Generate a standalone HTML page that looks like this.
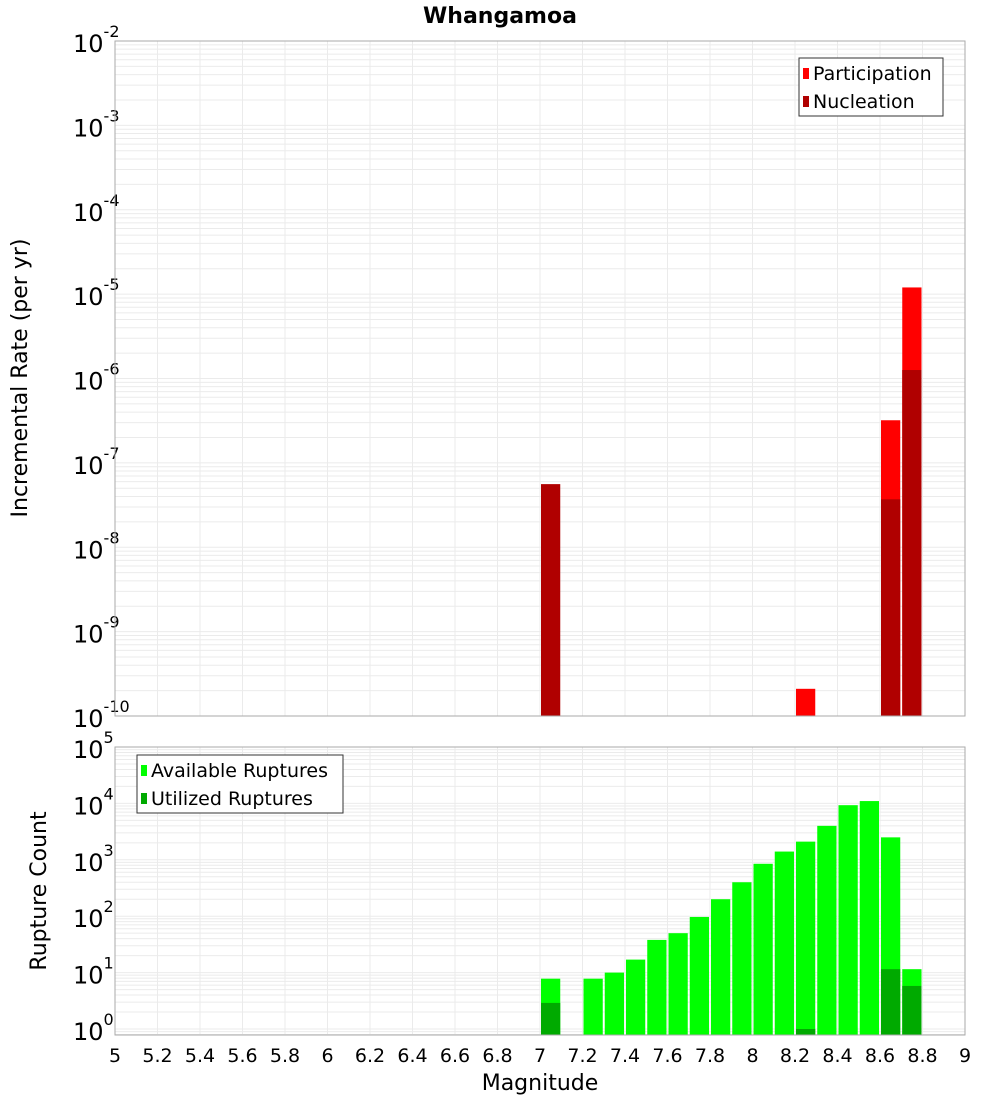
<!DOCTYPE html>
<html><head><meta charset="utf-8"><style>
body{margin:0;background:#fff}
svg{display:block;font-family:"DejaVu Sans","Liberation Sans",sans-serif}
</style></head><body>
<svg id="chart" width="1000" height="1100">
<text x="500" y="23" text-anchor="middle" font-weight="bold" font-size="22">Whangamoa</text>
<g id="top"></g><g id="bot"></g>
<text transform="translate(27,378) rotate(-90)" text-anchor="middle" font-size="22">Incremental Rate (per yr)</text>
<text transform="translate(46,891) rotate(-90)" text-anchor="middle" font-size="22">Rupture Count</text>
<text x="540" y="1090" text-anchor="middle" font-size="22">Magnitude</text>
</svg>
<script>
const xTicks=[5,5.2,5.4,5.6,5.8,6,6.2,6.4,6.6,6.8,7,7.2,7.4,7.6,7.8,8,8.2,8.4,8.6,8.8,9];
const partMags=[8.2,8.6,8.7];
const partVals=[2.1e-10,3.2e-7,1.2e-5];
const nuclMags=[7.0,8.6,8.7];
const nuclVals=[5.6e-8,3.7e-8,1.26e-6];
const availMags=[7.0,7.2,7.3,7.4,7.5,7.6,7.7,7.8,7.9,8.0,8.1,8.2,8.3,8.4,8.5,8.6,8.7];
const availVals=[7.8,7.8,10,17,38,50,97,200,400,850,1400,2100,4000,9300,11000,2500,11.5];
const utilMags=[7.0,8.2,8.6,8.7];
const utilVals=[2.9,1,11.5,5.8];
const topExps=[-2,-3,-4,-5,-6,-7,-8,-9,-10];
const botExps=[5,4,3,2,1,0];

const NS="http://www.w3.org/2000/svg";
function mk(p,t,a){const e=document.createElementNS(NS,t);for(const k in a)e.setAttribute(k,a[k]);p.appendChild(e);return e;}
const X0=115,X1=965;
const xs=m=>X0+(m-5)/4*(X1-X0);

function panel(g,top,bottom,yFn,lgMin,lgMax,exps,prefix){
  const bg=mk(g,'rect',{x:X0,y:top,width:X1-X0,height:bottom-top,fill:'#fff'});
  
  
  for(let d=Math.floor(lgMin);d<lgMax;d++){for(let k=1;k<10;k++){const v=Math.log10(k)+d;if(v<lgMin||v>lgMax)continue;const y=yFn(Math.pow(10,v));
    const l=mk(g,'line',{x1:X0,x2:X1,y1:y,y2:y,stroke:'#ebebeb','stroke-width':1});
    
    }}
  xTicks.forEach(t=>{const x=xs(t);
    const l=mk(g,'line',{x1:x,x2:x,y1:top,y2:bottom,stroke:'#ebebeb','stroke-width':1});
    
    });
  exps.forEach(e=>{const y=yFn(Math.pow(10,e));
    const t=mk(g,'text',{x:73,y:y+11,'font-size':24});
    
    
    t.textContent='10';
    const s=mk(t,'tspan',{dy:-15,'font-size':16});s.textContent=String(e);});
}
function bars(g,mags,vals,yFn,bottom,color,name){
  mags.forEach((m,i)=>{const y=yFn(vals[i]);const x=xs(m)+1;const w=xs(m+0.1)-xs(m)-2;
    const r=mk(g,'rect',{x:x,y:Math.min(y,bottom),width:w,height:Math.max(0,bottom-y),fill:color});
    
    });
}
function frame(g,top,bottom,prefix){
  const r=mk(g,'rect',{x:X0,y:top,width:X1-X0,height:bottom-top,fill:'none',stroke:'#aaa','stroke-width':1});
  
  
}
function legend(g,x,y,w,items,prefix){
  const b=mk(g,'rect',{x:x,y:y,width:w,height:58,fill:'#fff',stroke:'#333','stroke-width':1});
  
  
  items.forEach((it,i)=>{const cy=y+15+i*28;
    const s=mk(g,'rect',{x:x+4,y:cy-5,width:6,height:11,fill:it[1]});
    
    
    const t=mk(g,'text',{x:x+14,y:cy+7,'font-size':19});
    
    
    t.textContent=it[0];});
}
// top panel
const T0=41,T1=716;
const yTop=v=>T1-(Math.log10(v)+10)*(T1-T0)/8;
const gt=document.getElementById('top');
panel(gt,T0,T1,yTop,-10,-2,topExps,'top');
bars(gt,partMags,partVals,yTop,T1,'#ff0000','participation-bar');
bars(gt,nuclMags,nuclVals,yTop,T1,'#b00000','nucleation-bar');
frame(gt,T0,T1,'top');
legend(gt,799,58,144,[['Participation','#ff0000'],['Nucleation','#b00000']],'top');
// bottom panel
const B0=747,B1=1035,BZ=1029,BD=56.4;
const yBot=v=>BZ-Math.log10(v)*BD;
const gb=document.getElementById('bot');
panel(gb,B0,B1,yBot,-(B1-BZ)/BD,5,botExps,'bottom');
bars(gb,availMags,availVals,yBot,B1,'#00ff00','available-bar');
bars(gb,utilMags,utilVals,yBot,B1,'#00aa00','utilized-bar');
frame(gb,B0,B1,'bottom');
legend(gb,137,755,206,[['Available Ruptures','#00ff00'],['Utilized Ruptures','#00aa00']],'bottom');
xTicks.forEach(t=>{const tx=mk(gb,'text',{x:xs(t),y:1062,'text-anchor':'middle','font-size':19});
  
  
  tx.textContent=String(t);});
</script>
</body></html>
